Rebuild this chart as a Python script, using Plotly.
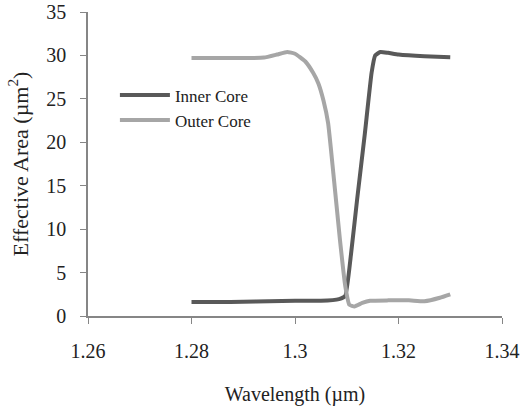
import plotly.graph_objects as go

inner_x = [1.280, 1.285, 1.290, 1.295, 1.300, 1.305, 1.3085, 1.3097, 1.3108, 1.3120, 1.3135, 1.3148, 1.3155, 1.3165, 1.3180, 1.3200, 1.3250, 1.3300]
inner_y = [1.6, 1.6, 1.65, 1.7, 1.75, 1.75, 1.95, 2.3, 7.0, 13.4, 21.0, 28.0, 30.0, 30.4, 30.3, 30.1, 29.9, 29.8]

outer_x = [1.280, 1.285, 1.290, 1.294, 1.2965, 1.2985, 1.300, 1.302, 1.3035, 1.3045, 1.3055, 1.3064, 1.3074, 1.3087, 1.3097, 1.3105, 1.3115, 1.3130, 1.3145, 1.3180, 1.3220, 1.3250, 1.3280, 1.3300]
outer_y = [29.7, 29.7, 29.7, 29.75, 30.1, 30.4, 30.2, 29.3, 28.0, 26.8, 24.8, 22.2, 16.5, 8.7, 3.5, 1.3, 1.1, 1.5, 1.75, 1.8, 1.8, 1.7, 2.1, 2.5]

x_ticks = [1.26, 1.28, 1.30, 1.32, 1.34]
x_tick_labels = ["1.26", "1.28", "1.3", "1.32", "1.34"]
y_ticks = [0, 5, 10, 15, 20, 25, 30, 35]

font_family = "Liberation Serif, Times New Roman, serif"

fig = go.Figure()
fig.add_trace(go.Scatter(x=inner_x, y=inner_y, mode="lines", name="Inner Core",
                         line=dict(color="#595959", width=4, shape="spline", smoothing=0.4)))
fig.add_trace(go.Scatter(x=outer_x, y=outer_y, mode="lines", name="Outer Core",
                         line=dict(color="#a6a6a6", width=4, shape="spline", smoothing=0.4)))

fig.update_layout(
    width=521, height=408,
    margin=dict(l=88, r=19, t=12, b=92, autoexpand=False),
    paper_bgcolor="white", plot_bgcolor="white",
    font=dict(family=font_family, size=20, color="#222222"),
    showlegend=True,
    legend=dict(x=0.065, y=0.785, xanchor="left", yanchor="top",
                bgcolor="rgba(0,0,0,0)", font=dict(size=17, color="#222222"),
                itemwidth=50, tracegroupgap=0),
    xaxis=dict(range=[1.26, 1.34], tickmode="array", tickvals=x_ticks, ticktext=x_tick_labels,
               showgrid=False, zeroline=False, showline=True, linecolor="#868686", linewidth=1.5,
               ticks="outside", ticklen=6, tickcolor="#868686", ticklabelstandoff=10,
               automargin=False,
               title=dict(text="Wavelength (µm)", standoff=26, font=dict(size=20))),
    yaxis=dict(range=[0, 35], tickmode="array", tickvals=y_ticks,
               showgrid=False, zeroline=False, showline=True, linecolor="#868686", linewidth=1.5,
               ticks="outside", ticklen=6, tickcolor="#868686", ticklabelstandoff=10,
               automargin=False,
               title=dict(text="Effective Area (µm<sup>2</sup>)", standoff=12, font=dict(size=22))),
)

fig.write_html("out.html")
